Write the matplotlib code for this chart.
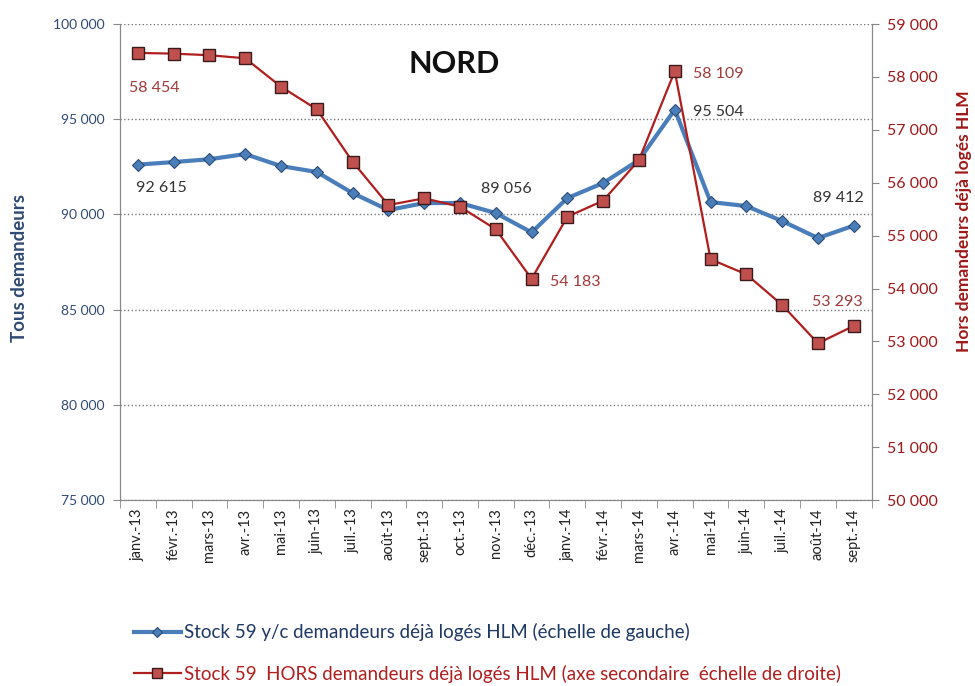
import numpy as np
import matplotlib
matplotlib.use('Agg')
import matplotlib.pyplot as plt
from matplotlib.ticker import FuncFormatter, MultipleLocator

plt.rcParams['font.family'] = ['Lato', 'DejaVu Sans']

months = ['janv.-13', 'févr.-13', 'mars-13', 'avr.-13', 'mai-13', 'juin-13', 'juil.-13',
          'août-13', 'sept.-13', 'oct.-13', 'nov.-13', 'déc.-13', 'janv.-14', 'févr.-14',
          'mars-14', 'avr.-14', 'mai-14', 'juin-14', 'juil.-14', 'août-14', 'sept.-14']

tous = [92615, 92750, 92900, 93170, 92540, 92230, 91120, 90230, 90600, 90600, 90074,
        89056, 90861, 91649, 92857, 95504, 90651, 90440, 89653, 88760, 89412]

hors = [58454, 58440, 58410, 58352, 57815, 57387, 56397, 55578, 55705, 55546, 55119,
        54183, 55357, 55660, 56429, 58109, 54552, 54268, 53688, 52964, 53293]

# which points carry a value label, and label offset in pixels (dx, dy, ha)
lbl_tous = {0: (24, -23, 'center'), 11: (-25, 43, 'center'),
            15: (18, -2, 'left'), 20: (-15, 28, 'center')}
lbl_hors = {0: (16, -35, 'center'), 11: (18, -3, 'left'),
            15: (18, -3, 'left'), 20: (-16, 24, 'center')}

BLUE = '#4A7EBB'
BLUE_DARK = '#2C4D75'
RED = '#C0504D'
RED_LINE = '#B01E1E'
LEFT_TXT = '#2F4A73'
RIGHT_TXT = '#A01818'


def fmt(v, pos=None):
    return '{:,}'.format(int(v)).replace(',', ' ')


fig = plt.figure(figsize=(9.75, 6.86), dpi=100)
ax = fig.add_axes([0.123, 0.271, 0.771, 0.694])
ax2 = ax.twinx()

x = np.arange(len(months))
l1, = ax.plot(x, tous, color=BLUE, lw=3, marker='D', ms=6, mfc=BLUE, mec=BLUE_DARK,
              mew=0.8, zorder=3, label='Stock 59 y/c demandeurs déjà logés HLM (échelle de gauche)')
l2, = ax2.plot(x, hors, color=RED_LINE, lw=1.6, marker='s', ms=9, mfc=RED, mec='#3A1A1A',
               mew=1, zorder=3, label='Stock 59  HORS demandeurs déjà logés HLM (axe secondaire  échelle de droite)')

ax.set_ylim(75000, 100000)
ax.yaxis.set_major_locator(MultipleLocator(5000))
ax.yaxis.set_major_formatter(FuncFormatter(fmt))
ax2.set_ylim(50000, 59000)
ax2.yaxis.set_major_locator(MultipleLocator(1000))
ax2.yaxis.set_major_formatter(FuncFormatter(fmt))
ax.set_xlim(-0.5, len(months) - 0.5)

ax.grid(axis='y', color='#777777', ls=':', lw=1)
ax.set_xticks(x)
ax.set_xticklabels(months, rotation=90, fontsize=10.5, color='#222222')
ax.set_xticks(np.arange(-0.5, len(months)), minor=True)
ax.tick_params(axis='x', which='major', length=0, pad=6)
ax.tick_params(axis='x', which='minor', length=6, color='#888888')
ax.tick_params(axis='y', length=5, color='#888888', labelsize=10, labelcolor=LEFT_TXT, pad=6)
ax2.tick_params(axis='y', length=5, color='#888888', labelsize=11.5, labelcolor=RIGHT_TXT, pad=6)

for a in (ax, ax2):
    a.spines['top'].set_visible(False)
    for s in ('left', 'right', 'bottom'):
        a.spines[s].set_color('#888888')

ax.set_ylabel('Tous demandeurs', fontsize=13.5, fontweight='bold', color=LEFT_TXT)
ax.yaxis.set_label_coords(-0.122, 0.487)
ax2.set_ylabel('Hors demandeurs déjà logés HLM', fontsize=12.5, fontweight='bold',
               color=RIGHT_TXT, rotation=90)
ax2.yaxis.set_label_coords(1.112, 0.585)

ax.text(0.444, 0.917, 'NORD', transform=ax.transAxes, fontsize=22, fontweight='bold',
        ha='center', va='center', color='#111111')

px = 72.0 / fig.dpi
for i, (dx, dy, ha) in lbl_tous.items():
    ax.annotate(fmt(tous[i]), (x[i], tous[i]), xytext=(dx * px, dy * px),
                textcoords='offset points', ha=ha, va='center', fontsize=11.5, color='#333333')
for i, (dx, dy, ha) in lbl_hors.items():
    ax2.annotate(fmt(hors[i]), (x[i], hors[i]), xytext=(dx * px, dy * px),
                 textcoords='offset points', ha=ha, va='center', fontsize=11.5, color='#A03A3A')

leg = fig.legend(handles=[l1, l2], loc='lower left', bbox_to_anchor=(0.12, -0.02),
                 frameon=False, fontsize=13.5, handlelength=2.5, handletextpad=0.2,
                 labelspacing=1.25, markerscale=0.8)
leg.get_texts()[0].set_color('#1F3864')
leg.get_texts()[1].set_color('#B01E1E')

fig.savefig('out.png', dpi=100)
